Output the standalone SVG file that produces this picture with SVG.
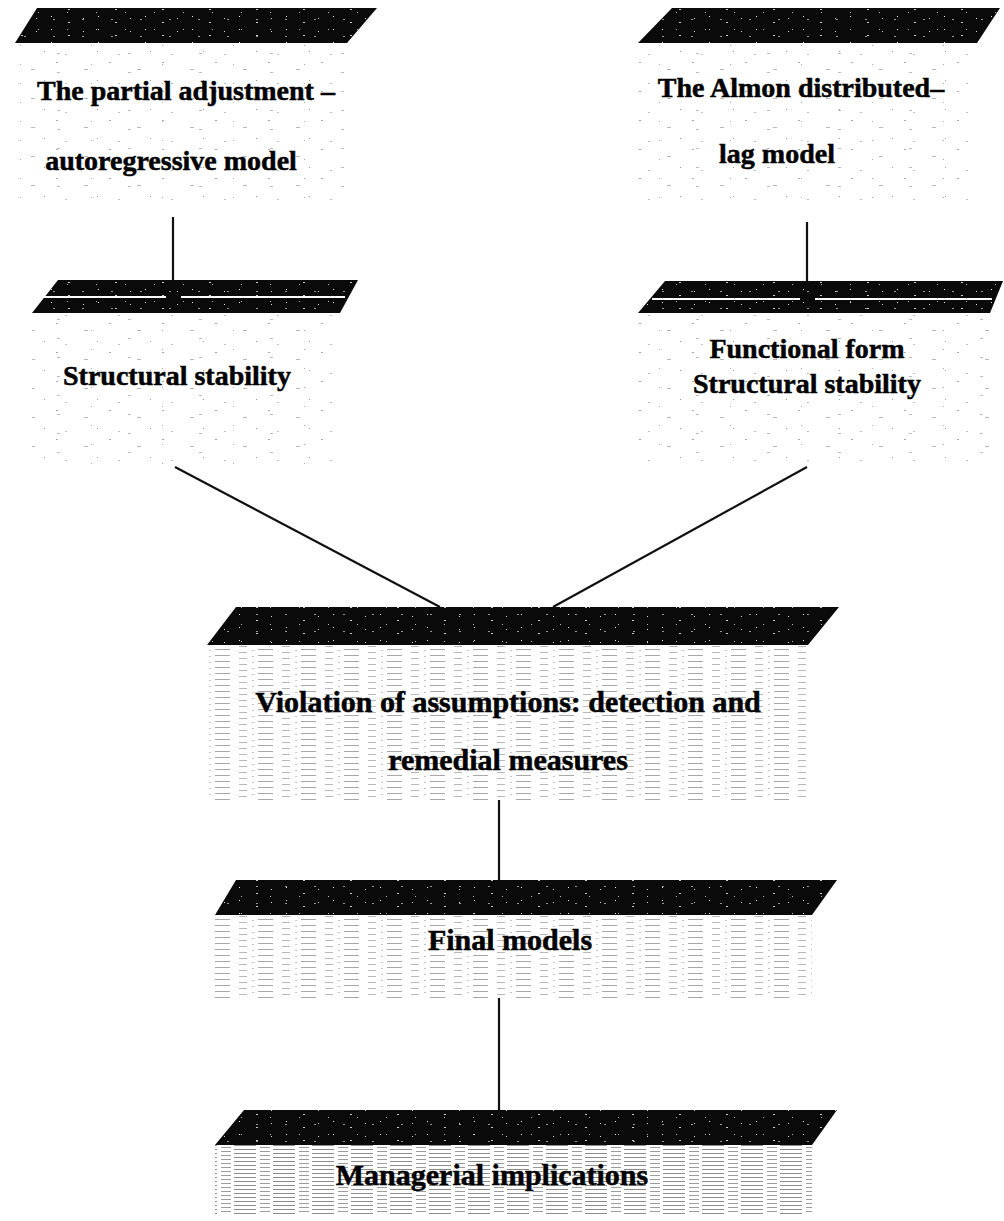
<svg xmlns="http://www.w3.org/2000/svg" width="1004" height="1221" viewBox="0 0 1004 1221">
<style>
.slab{fill:#0a0a0a}
.grain{fill:url(#grain)}
.grain2{fill:url(#grain2)}
.light{fill:url(#speck)}
.light2{fill:url(#speck2)}
.mid{fill:url(#streak)}
.dense{fill:url(#streak2)}
.gap{stroke:#fff;stroke-width:2}
.label{font-family:"Liberation Serif","Times New Roman",serif;font-weight:bold;font-size:28px;fill:#000;stroke:#000;stroke-width:0.5;text-anchor:middle}
.big{font-size:30px}
.conn{stroke:#111;stroke-width:2.2;fill:none}
</style>
<defs>
<pattern id="speck" width="53" height="29" patternUnits="userSpaceOnUse">
<rect width="53" height="29" fill="#fff"/>
<rect x="3" y="4" width="2" height="1" fill="#a8a8a8"/>
<rect x="31" y="11" width="4" height="1" fill="#b8b8b8"/>
<rect x="44" y="22" width="1" height="1" fill="#999"/>
<rect x="12" y="25" width="2" height="1" fill="#c0c0c0"/>
</pattern>
<pattern id="speck2" width="71" height="19" patternUnits="userSpaceOnUse">
<rect x="20" y="7" width="1" height="1" fill="#aaa"/>
<rect x="57" y="15" width="3" height="1" fill="#bbb"/>
</pattern>
<pattern id="streak" width="43" height="6" patternUnits="userSpaceOnUse">
<rect width="43" height="6" fill="#fff"/>
<rect x="0" y="1" width="15" height="1" fill="#a8a8a8"/>
<rect x="24" y="4" width="8" height="1" fill="#b8b8b8"/>
<rect x="37" y="2" width="2" height="1" fill="#c4c4c4"/>
</pattern>
<pattern id="streak2" width="39" height="4" patternUnits="userSpaceOnUse">
<rect width="39" height="4" fill="#fff"/>
<rect x="0" y="1" width="22" height="1" fill="#8c8c8c"/>
<rect x="26" y="3" width="10" height="1" fill="#9c9c9c"/>
</pattern>
<pattern id="grain" width="47" height="13" patternUnits="userSpaceOnUse">
<rect x="4" y="3" width="1" height="1" fill="#eee"/>
<rect x="21" y="9" width="2" height="1" fill="#ccc"/>
<rect x="36" y="5" width="1" height="1" fill="#ddd"/>
</pattern>
<pattern id="grain2" width="29" height="17" patternUnits="userSpaceOnUse">
<rect x="9" y="12" width="1" height="1" fill="#bbb"/>
<rect x="24" y="2" width="2" height="1" fill="#999"/>
</pattern>
<marker id="arrow" viewBox="0 0 10 10" refX="10" refY="5" markerWidth="6" markerHeight="6" orient="auto" markerUnits="strokeWidth">
<path d="M0,0 L10,5 L0,10 z" fill="#000"/>
</marker>
</defs>

<g id="connectors">
<line class="conn" x1="173" y1="217" x2="173" y2="317" marker-end="url(#arrow)"/>
<line class="conn" x1="807" y1="222" x2="807" y2="317" marker-end="url(#arrow)"/>
<line class="conn" x1="175" y1="467" x2="440" y2="607"/>
<line class="conn" x1="807" y1="467" x2="553" y2="607"/>
<line class="conn" x1="499" y1="800" x2="499" y2="880"/>
<line class="conn" x1="499" y1="998" x2="499" y2="1110"/>
</g>

<g id="node-partial-adjustment">
<rect class="light" x="15" y="43" width="330" height="162"/>
<rect class="light2" x="15" y="43" width="330" height="162"/>
<polygon class="slab" points="37,8 377,8 347,43 15,43"/>
<polygon class="grain" points="37,8 377,8 347,43 15,43"/>
<polygon class="grain2" points="37,8 377,8 347,43 15,43"/>
<text class="label" x="186" y="100">The partial adjustment –</text>
<text class="label" x="171" y="170">autoregressive model</text>
</g>

<g id="node-almon">
<rect class="light" x="638" y="43" width="339" height="162"/>
<rect class="light2" x="638" y="43" width="339" height="162"/>
<polygon class="slab" points="672,8 1000,8 977,43 638,43"/>
<polygon class="grain" points="672,8 1000,8 977,43 638,43"/>
<polygon class="grain2" points="672,8 1000,8 977,43 638,43"/>
<text class="label" x="801" y="97">The Almon distributed–</text>
<text class="label" x="777" y="163">lag model</text>
</g>

<g id="node-structural-left">
<rect class="light" x="32" y="313" width="308" height="152"/>
<rect class="light2" x="32" y="313" width="308" height="152"/>
<polygon class="slab" points="58,280 358,280 340,313 32,313"/>
<polygon class="grain" points="58,280 358,280 340,313 32,313"/>
<polygon class="grain2" points="58,280 358,280 340,313 32,313"/>
<line class="gap" x1="43" y1="297" x2="166" y2="297"/>
<line class="gap" x1="181" y1="297" x2="345" y2="297"/>
<text class="label" x="177" y="385">Structural stability</text>
</g>

<g id="node-structural-right">
<rect class="light" x="638" y="313" width="352" height="149"/>
<rect class="light2" x="638" y="313" width="352" height="149"/>
<polygon class="slab" points="665,281 1003,281 990,313 638,313"/>
<polygon class="grain" points="665,281 1003,281 990,313 638,313"/>
<polygon class="grain2" points="665,281 1003,281 990,313 638,313"/>
<line class="gap" x1="652" y1="299" x2="800" y2="299"/>
<line class="gap" x1="815" y1="299" x2="992" y2="299"/>
<text class="label" x="807" y="358">Functional form</text>
<text class="label" x="807" y="393">Structural stability</text>
</g>

<g id="node-violation">
<rect class="mid" x="207" y="645" width="601" height="155"/>
<polygon class="slab" points="236,607 839,607 808,645 207,645"/>
<polygon class="grain" points="236,607 839,607 808,645 207,645"/>
<polygon class="grain2" points="236,607 839,607 808,645 207,645"/>
<text class="label big" x="508" y="712">Violation of assumptions: detection and</text>
<text class="label big" x="508" y="770">remedial measures</text>
</g>

<g id="node-final">
<rect class="mid" x="215" y="915" width="597" height="83"/>
<polygon class="slab" points="236,880 837,880 812,915 215,915"/>
<polygon class="grain" points="236,880 837,880 812,915 215,915"/>
<polygon class="grain2" points="236,880 837,880 812,915 215,915"/>
<text class="label big" x="510" y="950">Final models</text>
</g>

<g id="node-managerial">
<rect class="dense" x="215" y="1145" width="597" height="70"/>
<polygon class="slab" points="244,1110 837,1110 812,1145 215,1145"/>
<polygon class="grain" points="244,1110 837,1110 812,1145 215,1145"/>
<polygon class="grain2" points="244,1110 837,1110 812,1145 215,1145"/>
<text class="label big" x="492" y="1185">Managerial implications</text>
</g>
</svg>
